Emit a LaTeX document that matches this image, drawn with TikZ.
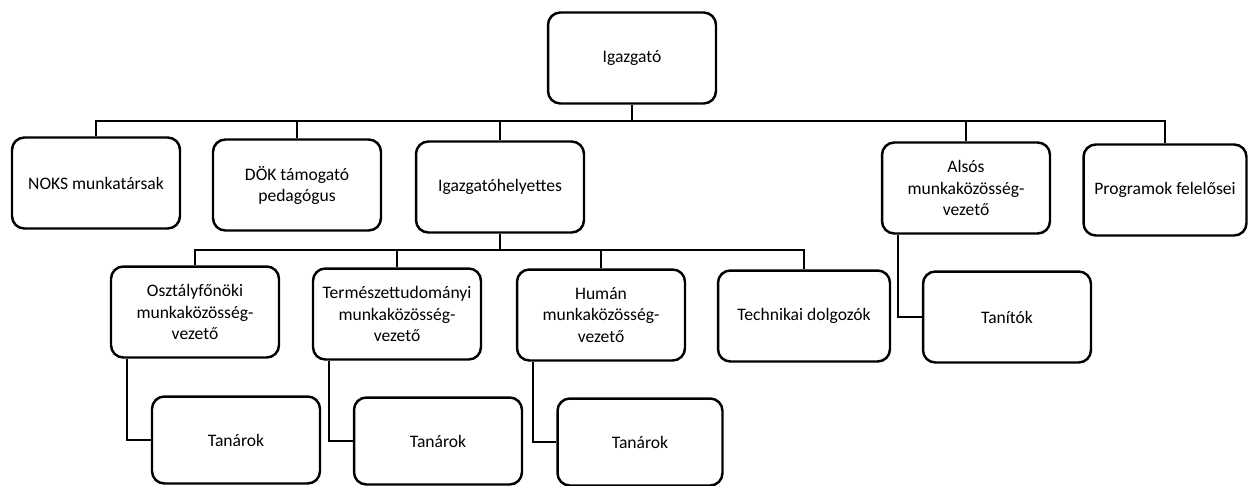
\documentclass[tikz,border=0pt]{standalone}
\usepackage{fontspec}
\setmainfont{Carlito}

\tikzset{unit/.style={draw, line width=1.4pt, rounded corners=7pt, minimum width=3.36cm, minimum height=1.82cm, align=center, inner sep=1pt, font=\fontsize{10}{12}\selectfont},
	staff/.style={unit, minimum height=1.74cm}}

\begin{document}
\begin{tikzpicture}[x=0.02cm, y=-0.02cm, line width=1.4pt]
%	\draw [help lines] (0,0) grid (1248,485);
	\useasboundingbox (0,0) rectangle (1248,485);
	\node [unit] (ig) at (632,58) {Igazgató};
	\node [unit] (noks) at (96,183) {NOKS munkatársak};
	\node [unit] (dok) at (297,185) {DÖK támogató\\pedagógus};
	\node [unit] (ighely) at (500,187) {Igazgatóhelyettes};
	\node [unit] (alsos) at (966,188) {Alsós\\munkaközösség-\\vezető};
	\node [unit, minimum width=3.26cm] (prog) at (1165,190) {Programok felelősei};
	\node [unit] (oszt) at (195,312) {Osztályfőnöki\\munkaközösség-\\vezető};
	\node [unit] (term) at (397,314) {Természettudományi\\munkaközösség-\\vezető};
	\node [unit] (human) at (601,315) {Humán\\munkaközösség-\\vezető};
	\node [unit, minimum width=3.44cm] (tech) at (804,316) {Technikai dolgozók};
	\node [unit] (tanito) at (1007,317) {Tanítók};
	\node [staff] (tanar1) at (236,440) {Tanárok};
	\node [staff] (tanar2) at (438,441) {Tanárok};
	\node [staff, minimum width=3.3cm] (tanar3) at (640,442) {Tanárok};
	\coordinate (bus1) at (0,121);
	\coordinate (bus2) at (0,250);
	\draw (ig.south) -- (ig.south |- bus1);
	\draw (noks.north) |- (bus1 -| prog.north) -- (prog.north);
	\foreach \n in {dok, ighely, alsos} \draw (\n.north) -- (\n.north |- bus1);
	\draw (ighely.south) -- (ighely.south |- bus2);
	\draw (oszt.north) |- (bus2 -| tech.north) -- (tech.north);
	\foreach \n in {term, human} \draw (\n.north) -- (\n.north |- bus2);
	\foreach \a/\b in {oszt/tanar1, term/tanar2, human/tanar3, alsos/tanito}
		\draw ([xshift=0.34cm]\a.south west) |- (\b.west);
\end{tikzpicture}
\end{document}
